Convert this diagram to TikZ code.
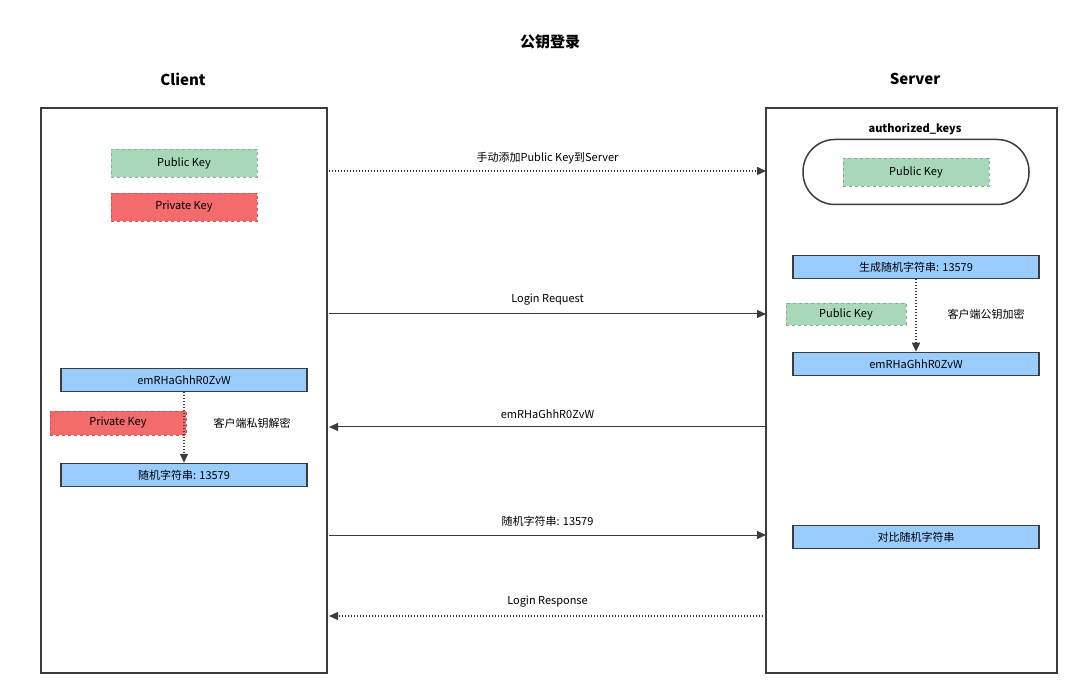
\documentclass[tikz,border=0pt]{standalone}
\usepackage{fontspec}
\setmainfont{Noto Sans CJK SC}
\usetikzlibrary{arrows.meta}

\definecolor{keygreen}{RGB}{168,216,185}
\definecolor{keyred}{RGB}{243,107,107}
\definecolor{msgblue}{RGB}{153,204,255}
\definecolor{linegray}{RGB}{60,60,60}

\tikzset{every picture/.style={line width=0.75pt}}
\tikzset{
  side/.style={draw=linegray, line width=1.5pt},
  greenkey/.style={fill=keygreen, draw=keygreen!80!black, dashed, line width=0.6pt, minimum width=146, minimum height=28, font=\fontsize{11}{13}\selectfont},
  redkey/.style={fill=keyred, draw=keyred!80!black, dashed, line width=0.6pt, minimum width=146, minimum height=28, font=\fontsize{11}{13}\selectfont},
  msg/.style={fill=msgblue, draw=linegray, line width=1.5pt, minimum width=246, minimum height=23, font=\fontsize{11}{13}\selectfont},
  lbl/.style={font=\fontsize{11}{13}\selectfont},
  call/.style={draw=linegray, line width=1pt, -{Triangle[length=9pt,width=8pt]}},
  back/.style={call, dotted, line width=1.5pt}
}

\begin{document}
\begin{tikzpicture}[x=1pt,y=1pt,yscale=-1,xscale=1]
\useasboundingbox (0,0) rectangle (1071,684);

% titles
\node [font=\fontsize{15}{17}\selectfont\bfseries] (title) at (550,42) {公钥登录};
\node [font=\fontsize{15}{17}\selectfont\bfseries] (clientT) at (183,79) {Client};
\node [font=\fontsize{15}{17}\selectfont\bfseries] (serverT) at (915,79) {Server};

% columns
\draw [side] (41,108) rectangle (327,673);
\draw [side] (766,108) rectangle (1057,673);

% client keys
\node [greenkey] (pub) at (184,163) {Public Key};
\node [redkey] (priv) at (184,207) {Private Key};

% authorized keys
\node [font=\fontsize{11}{13}\selectfont\bfseries] (authT) at (915,129) {authorized\_keys};
\node [draw=linegray, line width=1.5pt, rounded corners=32, minimum width=226, minimum height=65] (store) at (916,172) {};
\node [greenkey] (spub) at (916,172) {Public Key};

% server encrypt
\node [msg] (gen) at (916,267) {生成随机字符串: 13579};
\node [greenkey, minimum width=120, minimum height=22] (epub) at (846,314) {Public Key};
\node [lbl] (enc) at (986,314) {客户端公钥加密};
\node [msg] (cipher) at (916,364) {emRHaGhhR0ZvW};
\draw [back] (gen) -- (cipher);

% client decrypt
\node [msg] (ccipher) at (184,380) {emRHaGhhR0ZvW};
\node [redkey, minimum width=136, minimum height=24] (dpriv) at (118,423) {Private Key};
\node [lbl] (dec) at (252,423) {客户端私钥解密};
\node [msg] (plain) at (184,475) {随机字符串: 13579};
\draw [back] (ccipher) -- (plain);

% compare
\node [msg] (cmp) at (916,537) {对比随机字符串};

% messages
\coordinate (c1) at (329,171); \coordinate (s1) at (766,171);
\coordinate (c2) at (329,314); \coordinate (s2) at (766,314);
\coordinate (c3) at (329,427); \coordinate (s3) at (766,427);
\coordinate (c4) at (329,535); \coordinate (s4) at (766,535);
\coordinate (c5) at (329,616); \coordinate (s5) at (766,616);
\draw [back] (c1) -- node [lbl, above=3pt] {手动添加Public Key到Server} (s1);
\draw [call] (c2) -- node [lbl, above=5pt] {Login Request} (s2);
\draw [call] (s3) -- node [lbl, above=5pt] {emRHaGhhR0ZvW} (c3);
\draw [call] (c4) -- node [lbl, above=5pt] {随机字符串: 13579} (s4);
\draw [back] (s5) -- node [lbl, above=5pt] {Login Response} (c5);

\end{tikzpicture}
\end{document}
